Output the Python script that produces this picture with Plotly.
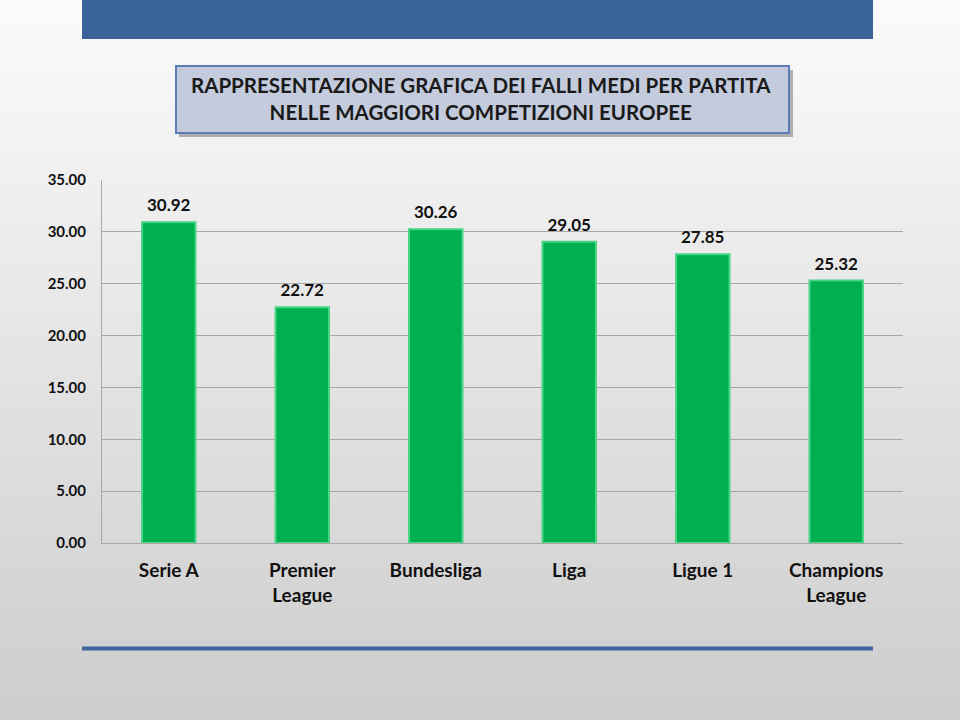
import plotly.graph_objects as go

categories = ["Serie A", "Premier<br>League", "Bundesliga", "Liga", "Ligue 1", "Champions<br>League"]
values = [30.92, 22.72, 30.26, 29.05, 27.85, 25.32]
y_ticks = [0, 5, 10, 15, 20, 25, 30, 35]
title_text = "RAPPRESENTAZIONE GRAFICA DEI FALLI MEDI PER PARTITA<br>NELLE MAGGIORI COMPETIZIONI EUROPEE"

W, H = 960, 720
L, R, T, B = 102, 903, 180, 543

def px(x):
    return (x - L) / (R - L)

def py(y):
    return (B - y) / (B - T)

FONT = "Lato"

fig = go.Figure()
fig.add_trace(go.Bar(
    x=categories, y=values, width=0.4,
    marker=dict(color="#00b050", line=dict(color="#45d483", width=2)),
    hoverinfo="x+y",
))
fig.add_trace(go.Scatter(
    x=categories, y=values, mode="markers+text",
    marker=dict(size=9, opacity=0, color="#00b050"),
    texttemplate="<b>%{y:.2f}</b>", textposition="top center",
    textfont=dict(family=FONT, size=17, color="#111111"),
    cliponaxis=False, hoverinfo="skip",
))

shapes = []
# background gradient
n = 60
for i in range(n):
    t = i / (n - 1)
    c = int(round(251 - (251 - 205) * t))
    y0 = i * H / n
    y1 = (i + 1) * H / n + 1
    shapes.append(dict(type="rect", xref="paper", yref="paper",
                       x0=px(0), x1=px(W), y0=py(y1), y1=py(y0),
                       fillcolor=f"rgb({c},{c},{c})", line=dict(width=0), layer="below"))
# top banner
shapes.append(dict(type="rect", xref="paper", yref="paper",
                   x0=px(82), x1=px(873), y0=py(39), y1=py(-2),
                   fillcolor="#3a6399", line=dict(width=0), layer="below"))
# bottom line
shapes.append(dict(type="line", xref="paper", yref="paper",
                   x0=px(82), x1=px(873), y0=py(648.5), y1=py(648.5),
                   line=dict(color="#3f66a0", width=4), layer="below"))
# title box shadow
shapes.append(dict(type="rect", xref="paper", yref="paper",
                   x0=px(179), x1=px(793), y0=py(137), y1=py(70),
                   fillcolor="rgba(90,90,90,0.45)", line=dict(width=0), layer="below"))
# title box
shapes.append(dict(type="rect", xref="paper", yref="paper",
                   x0=px(176), x1=px(789), y0=py(133), y1=py(66),
                   fillcolor="#c3cbdc", line=dict(color="#5b7db6", width=2), layer="below"))

fig.update_layout(
    width=W, height=H,
    margin=dict(l=L, r=W - R, t=T, b=H - B, pad=0),
    paper_bgcolor="white", plot_bgcolor="rgba(0,0,0,0)",
    showlegend=False,
    shapes=shapes,
    annotations=[dict(text=f"<b>{title_text}</b>", xref="paper", yref="paper",
                      x=px(481), y=py(98.5), xanchor="center", yanchor="middle",
                      showarrow=False, align="center",
                      font=dict(family=FONT, size=20.5, color="#1a1a1a"))],
    font=dict(family=FONT, color="#111111"),
    bargap=0.6,
)
fig.update_yaxes(range=[0, 35], tickvals=y_ticks, ticktext=[f"<b>{v:.2f}</b>" for v in y_ticks],
                 showgrid=True, gridcolor="#a8a8a8", gridwidth=1,
                 showline=True, linecolor="#a8a8a8", linewidth=1,
                 zeroline=False, ticks="", ticklabelstandoff=12,
                 tickfont=dict(family=FONT, size=15, color="#111111"), fixedrange=True)
fig.update_xaxes(showline=True, linecolor="#a8a8a8", linewidth=1, ticks="",
                 ticktext=[f"<b>{c}</b>" for c in categories], tickvals=categories,
                 ticklabelstandoff=10,
                 tickfont=dict(family=FONT, size=19, color="#111111"), fixedrange=True)

fig.write_html("out.html", config={"displayModeBar": False},
               post_script="document.body.style.margin='0';document.body.style.overflow='hidden';")
